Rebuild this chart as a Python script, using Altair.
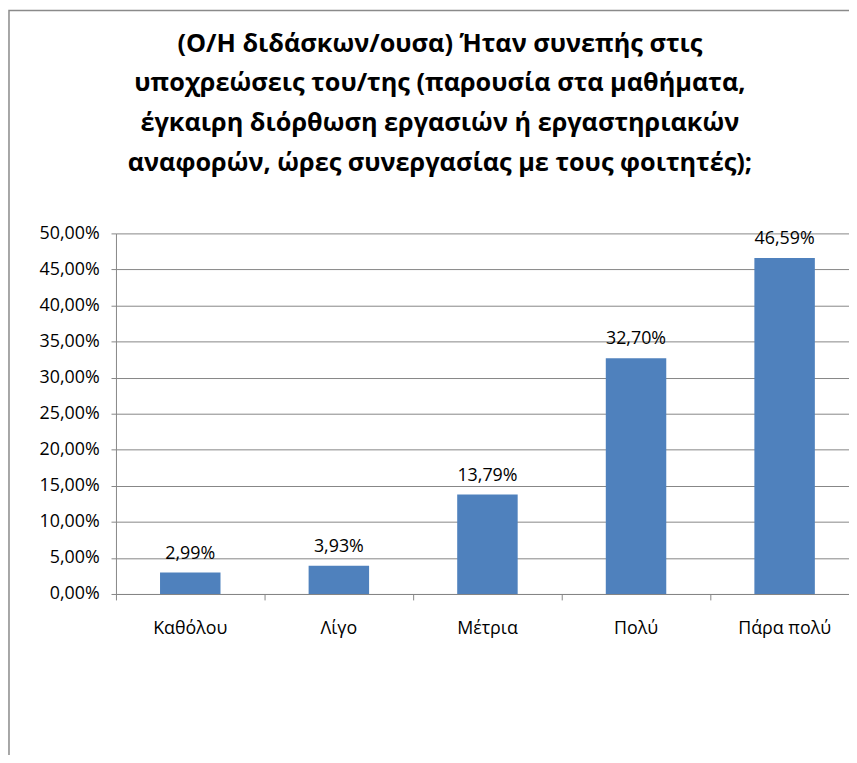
import altair as alt
import pandas as pd

categories = ["Καθόλου", "Λίγο", "Μέτρια", "Πολύ", "Πάρα πολύ"]
values = [0.0299, 0.0393, 0.1379, 0.3270, 0.4659]
title_lines = [
    "(Ο/Η διδάσκων/ουσα) Ήταν συνεπής στις",
    "υποχρεώσεις του/της (παρουσία στα μαθήματα,",
    "έγκαιρη διόρθωση εργασιών ή εργαστηριακών",
    "αναφορών, ώρες συνεργασίας με τους φοιτητές);",
]
y_ticks = [0, 0.05, 0.10, 0.15, 0.20, 0.25, 0.30, 0.35, 0.40, 0.45, 0.50]

df = pd.DataFrame({"cat": categories, "value": values})

FONT = "Open Sans"
W, H = 740, 364

x_enc = alt.X(
    "cat:N",
    sort=categories,
    scale=alt.Scale(range=[0, 750], paddingInner=0, paddingOuter=0),
    axis=alt.Axis(
        title=None, bandPosition=0, labelAngle=0,
        labelFont=FONT, labelFontSize=18, labelColor="#000000",
        labelPadding=20, tickSize=6, tickColor="#868686",
        domainColor="#868686", domainWidth=1, grid=False,
    ),
)
y_enc = alt.Y(
    "value:Q",
    scale=alt.Scale(domain=[0, 0.5], nice=False),
    axis=alt.Axis(
        title=None, values=y_ticks,
        labelExpr="replace(format(datum.value, '.2%'), '.', ',')",
        labelFont=FONT, labelFontSize=18, labelColor="#000000",
        labelPadding=12, tickSize=5, tickColor="#868686",
        domainColor="#868686", gridColor="#868686", gridWidth=1,
    ),
)

border = alt.Chart(alt.Data(values=[{}])).mark_rect(
    fill="transparent", stroke="#8a8a8a", strokeWidth=1.5
).encode(
    x=alt.value(-108), x2=alt.value(800),
    y=alt.value(-225), y2=alt.value(700),
)

bars = alt.Chart(df).mark_bar(
    color="#4F81BD", width=alt.RelativeBandSize(0.407)
).encode(x=x_enc, y=y_enc)

labels = alt.Chart(df).transform_calculate(
    label="replace(format(datum.value, '.2%'), '.', ',')"
).mark_text(
    font=FONT, fontSize=18, color="#000000", baseline="alphabetic", dy=-14
).encode(x=x_enc, y=y_enc, text="label:N")

chart = alt.layer(border, bars, labels).properties(
    width=W, height=H,
    autosize="none",
    padding={"left": 109, "top": 224, "right": 0, "bottom": 159},
    title=alt.TitleParams(
        text=title_lines, font=FONT, fontSize=25.5, fontWeight="bold",
        color="#000000", anchor="middle", frame="group", dx=-43,
        offset=-168, lineHeight=40,
    ),
).configure_view(strokeOpacity=0)

chart.save("out.html", embed_options={"renderer": "svg", "actions": False})
